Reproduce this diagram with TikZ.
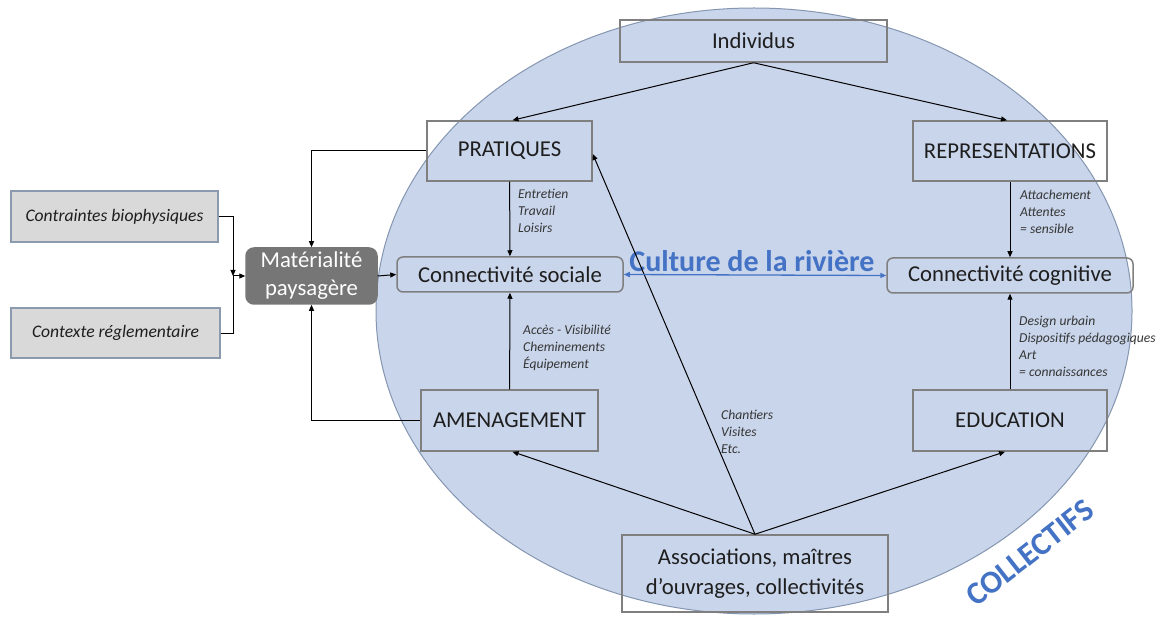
\documentclass[tikz,border=0pt]{standalone}
\usepackage{fontspec}
\setmainfont{Carlito}
\usetikzlibrary{arrows.meta,positioning,calc}
\definecolor{cell}{HTML}{C9D5EB}
\definecolor{cellL}{HTML}{8496B0}
\definecolor{frmL}{HTML}{7F7F7F}
\definecolor{cgray}{HTML}{D9D9D9}
\definecolor{cgrayL}{HTML}{8C9AB0}
\definecolor{cdark}{HTML}{767676}
\definecolor{cblue}{HTML}{4472C4}
\definecolor{ink}{HTML}{1E1E1E}
\tikzset{
  every node/.style={text=ink},
  frm/.style ={draw=frmL, line width=1.5pt, inner sep=0pt, align=center,
               font=\fontsize{22.7}{28}\selectfont},
  lien/.style={frm, rounded corners=6pt},
  ctx/.style ={frm, fill=cgray, draw=cgrayL, font=\itshape\fontsize{17.6}{21}\selectfont},
  matbox/.style={frm, fill=cdark, draw=cdark, rounded corners=8pt, text=white},
  lbl/.style ={font=\itshape\fontsize{13.6}{16.8}\selectfont, align=left, anchor=west,
               inner sep=0pt, text=ink!90},
  ar/.style  ={-{Triangle[length=6pt,width=5pt]}, line width=1pt, draw=black},
  bar/.style ={{Triangle[length=6pt,width=5pt]}-{Triangle[length=6pt,width=5pt]},
               line width=1.3pt, draw=cblue},
}
\begin{document}
\begin{tikzpicture}[x=1pt, y=-1pt]
\useasboundingbox (0,0) rectangle (1166,617);

% the collective sphere
\filldraw[fill=cell, draw=cellL, line width=1pt] (754,311) ellipse [x radius=378pt, y radius=303pt];

\node[frm, minimum width=267pt, minimum height=42pt] (ind) at (753.5,41) {Individus};
\node[frm, minimum width=165pt, minimum height=60pt] (pra) at (509.5,151) {PRATIQUES};
\node[frm, minimum width=194pt, minimum height=60pt] (rep) at (1010,151) {REPRESENTATIONS};
\node[lien, minimum width=226pt, minimum height=35pt] (cs) at (510,274.5) {Connectivit\'e sociale};
\node[lien, minimum width=246pt, minimum height=35pt] (cc) at (1010,275.5) {Connectivit\'e cognitive};
\node[frm, minimum width=177pt, minimum height=61pt] (ame) at (509.5,420.5) {AMENAGEMENT};
\node[frm, minimum width=194pt, minimum height=61pt] (edu) at (1010,420.5) {EDUCATION};
\node[frm, minimum width=266pt, minimum height=77pt, font=\fontsize{22.7}{29.5}\selectfont] (ass)
  at (755,573.5) {Associations, ma\^itres\\d’ouvrages, collectivit\'es};

\node[ctx, minimum width=207pt, minimum height=51pt] (cb) at (114.5,216.5) {Contraintes biophysiques};
\node[ctx, minimum width=209pt, minimum height=50pt] (cr) at (115.5,333) {Contexte r\'eglementaire};
\node[matbox, minimum width=131pt, minimum height=56pt] (mat) at (311.5,276) {Mat\'erialit\'e\\paysag\`ere};

\node[font=\bfseries\fontsize{30}{36}\selectfont, text=cblue, inner sep=0pt] (cult) at (752,261) {Culture de la rivi\`ere};
\node[font=\bfseries\fontsize{32}{38}\selectfont, text=cblue, rotate=38, inner sep=0pt] (coll) at (1030,553) {COLLECTIFS};

\node[lbl] (lpra) at (518,211) {Entretien\\Travail\\Loisirs};
\node[lbl] (lame) at (523,348) {Acc\`es - Visibilit\'e\\Cheminements\\\'Equipement};
\node[lbl] (lrep) at (1020,212) {Attachement\\Attentes\\= sensible};
\node[lbl] (ledu) at (1019,346.5) {Design urbain\\Dispositifs p\'edagogiques\\Art\\= connaissances};
\node[lbl] (lass) at (721,432) {Chantiers\\Visites\\Etc.};

% left inputs
\coordinate (join) at (233,276);
\draw[ar] (cb.east) -| (join);
\draw[line width=1pt] (cr.east) -| (join);
\draw[ar] (join) -- (mat.west);
\draw[ar] (pra.west) -| (mat.north);
\draw[ar] (ame.west) -| (mat.south);
\draw[ar] (mat.east) -- (cs.west);

\draw[ar] (ind.south) -- ($(pra.north)+(3,0)$);
\draw[ar] (ind.south) -- ($(rep.north)+(-3,0)$);
\draw[ar] (pra) -- (cs);
\draw[ar] (ame) -- (cs);
\draw[ar] (rep) -- (cc);
\draw[ar] (edu) -- (cc);
\draw[ar] (ass.north) -- ($(ame.south)+(3,0)$);
\draw[ar] (ass.north) -- ($(edu.south)+(-5,0)$);
\draw[ar] (ass.north) -- ($(pra.east)+(0,3)$);
\draw[bar] (cs.east) -- (cc.west);

\end{tikzpicture}
\end{document}
